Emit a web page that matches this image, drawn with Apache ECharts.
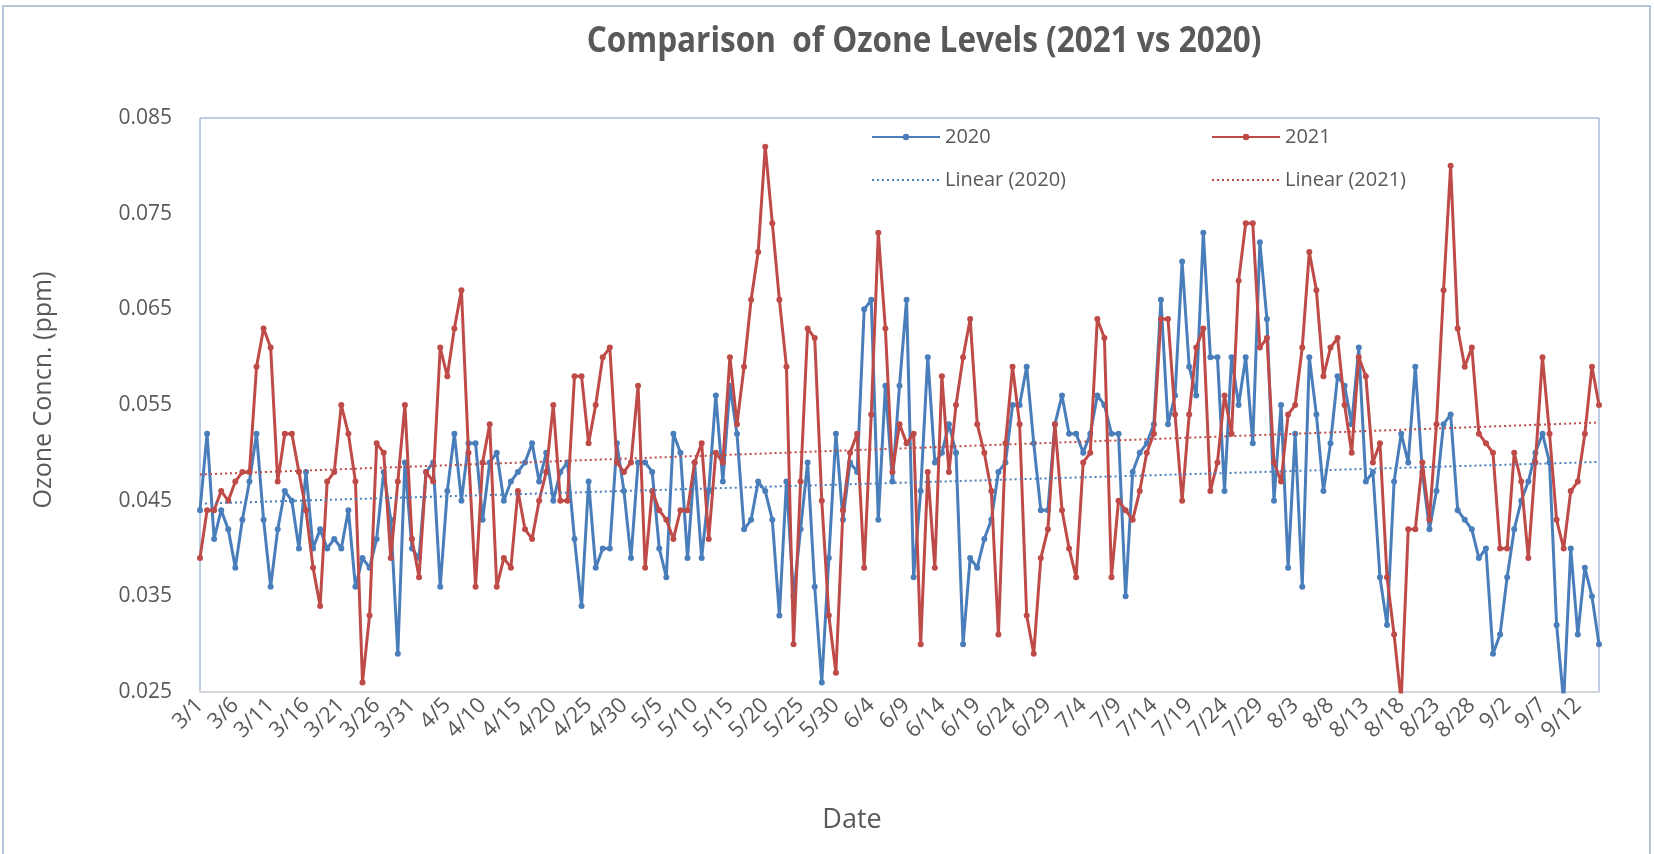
<!DOCTYPE html>
<html>
<head>
    <meta charset="utf-8"/>
    <title>Comparison of Ozone Levels</title>
    <script src="https://cdn.jsdelivr.net/npm/echarts@6/dist/echarts.min.js"></script>
    <style>
        html, body { margin: 0; padding: 0; background: #fff; }
        #chart1 { width: 1654px; height: 854px; }
    </style>
</head>
<body>
<div id="chart1"></div>
<script type="text/javascript">
    // daily dates 3/1 .. 9/15
    var months = [3, 4, 5, 6, 7, 8, 9];
    var monthDays = [31, 30, 31, 30, 31, 31, 15];
    var dates = [];
    months.forEach(function (m, i) {
        for (var d = 1; d <= monthDays[i]; d++) dates.push(m + '/' + d);
    });

    // ozone, ppm
    var ozone2020 = [
        0.044, 0.052, 0.041, 0.044, 0.042, 0.038, 0.043, 0.047, 0.052, 0.043, 0.036, 0.042, 0.046, 0.045, 0.040, 0.048, 0.040, 0.042, 0.040, 0.041, 0.040, 0.044, 0.036, 0.039, 0.038,
        0.041, 0.048, 0.043, 0.029, 0.049, 0.040, 0.039, 0.048, 0.049, 0.036, 0.046, 0.052, 0.045, 0.051, 0.051, 0.043, 0.049, 0.050, 0.045, 0.047, 0.048, 0.049, 0.051, 0.047, 0.050,
        0.045, 0.048, 0.049, 0.041, 0.034, 0.047, 0.038, 0.040, 0.040, 0.051, 0.046, 0.039, 0.049, 0.049, 0.048, 0.040, 0.037, 0.052, 0.050, 0.039, 0.049, 0.039, 0.046,
        0.056, 0.047, 0.057, 0.052, 0.042, 0.043, 0.047, 0.046, 0.043, 0.033, 0.047, 0.035, 0.042, 0.049, 0.036, 0.026, 0.039, 0.052, 0.043, 0.049, 0.048, 0.065, 0.066, 0.043, 0.057, 0.047, 0.057,
        0.066, 0.037, 0.046, 0.060, 0.049, 0.050, 0.053, 0.050, 0.030, 0.039, 0.038, 0.041, 0.043, 0.048, 0.049, 0.055, 0.055, 0.059, 0.051, 0.044, 0.044, 0.053, 0.056, 0.052, 0.052,
        0.050, 0.052, 0.056, 0.055, 0.052, 0.052, 0.035, 0.048, 0.050, 0.051, 0.053, 0.066, 0.053, 0.056, 0.070, 0.059, 0.056, 0.073, 0.060, 0.060, 0.046, 0.060, 0.055, 0.060, 0.051,
        0.072, 0.064, 0.045, 0.055, 0.038, 0.052, 0.036, 0.060, 0.054, 0.046, 0.051, 0.058, 0.057, 0.053, 0.061, 0.047, 0.048, 0.037, 0.032, 0.047, 0.052, 0.049,
        0.059, 0.048, 0.042, 0.046, 0.053, 0.054, 0.044, 0.043, 0.042, 0.039, 0.040, 0.029, 0.031, 0.037, 0.042, 0.045, 0.047, 0.050, 0.052, 0.049, 0.032, 0.024, 0.040, 0.031, 0.038, 0.035, 0.030
    ];
    var ozone2021 = [
        0.039, 0.044, 0.044, 0.046, 0.045, 0.047, 0.048, 0.048, 0.059, 0.063, 0.061, 0.047, 0.052, 0.052, 0.048, 0.044, 0.038, 0.034, 0.047, 0.048, 0.055, 0.052, 0.047, 0.026, 0.033,
        0.051, 0.050, 0.039, 0.047, 0.055, 0.041, 0.037, 0.048, 0.047, 0.061, 0.058, 0.063, 0.067, 0.050, 0.036, 0.049, 0.053, 0.036, 0.039, 0.038, 0.046, 0.042, 0.041, 0.045, 0.048,
        0.055, 0.045, 0.045, 0.058, 0.058, 0.051, 0.055, 0.060, 0.061, 0.049, 0.048, 0.049, 0.057, 0.038, 0.046, 0.044, 0.043, 0.041, 0.044, 0.044, 0.049, 0.051, 0.041,
        0.050, 0.049, 0.060, 0.053, 0.059, 0.066, 0.071, 0.082, 0.074, 0.066, 0.059, 0.030, 0.047, 0.063, 0.062, 0.045, 0.033, 0.027, 0.044, 0.050, 0.052, 0.038, 0.054, 0.073, 0.063, 0.048, 0.053,
        0.051, 0.052, 0.030, 0.048, 0.038, 0.058, 0.048, 0.055, 0.060, 0.064, 0.053, 0.050, 0.046, 0.031, 0.051, 0.059, 0.053, 0.033, 0.029, 0.039, 0.042, 0.053, 0.044, 0.040, 0.037,
        0.049, 0.050, 0.064, 0.062, 0.037, 0.045, 0.044, 0.043, 0.046, 0.050, 0.052, 0.064, 0.064, 0.054, 0.045, 0.054, 0.061, 0.063, 0.046, 0.049, 0.056, 0.052, 0.068, 0.074, 0.074,
        0.061, 0.062, 0.049, 0.047, 0.054, 0.055, 0.061, 0.071, 0.067, 0.058, 0.061, 0.062, 0.055, 0.050, 0.060, 0.058, 0.049, 0.051, 0.037, 0.031, 0.024, 0.042,
        0.042, 0.049, 0.043, 0.053, 0.067, 0.080, 0.063, 0.059, 0.061, 0.052, 0.051, 0.050, 0.040, 0.040, 0.050, 0.047, 0.039, 0.049, 0.060, 0.052, 0.043, 0.040, 0.046, 0.047, 0.052, 0.059, 0.055
    ];
    var yTicks = [0.025, 0.035, 0.045, 0.055, 0.065, 0.075, 0.085];

    // least squares trend, like Excel's "Linear" trendline
    function linearTrend(arr) {
        var n = arr.length, sx = 0, sy = 0, sxx = 0, sxy = 0;
        arr.forEach(function (v, i) { sx += i; sy += v; sxx += i * i; sxy += i * v; });
        var k = (n * sxy - sx * sy) / (n * sxx - sx * sx);
        var b = (sy - k * sx) / n;
        return arr.map(function (v, i) { return b + k * i; });
    }

    var blue = '#4A7EBB', red = '#BE4B48', grey = '#595959';
    var font = '"Open Sans", "Noto Sans", sans-serif';

    var myChart1 = echarts.init(document.getElementById('chart1'));

    function legendAt(name, left, top, isTrend) {
        var lg = {
            data: [name], left: left, top: top,
            itemWidth: 68, itemHeight: 8,
            textStyle: { color: grey, fontSize: 20, fontFamily: font }
        };
        if (isTrend) lg.itemStyle = { opacity: 0 };
        return lg;
    }

    function lineSeries(name, data, color, z) {
        return {
            name: name, type: 'line', data: data,
            symbol: 'circle', symbolSize: 6, showAllSymbol: true,
            itemStyle: { color: color },
            lineStyle: { color: color, width: 3 },
            z: z
        };
    }

    function trendSeries(name, data, color) {
        return {
            name: name, type: 'line', data: linearTrend(data),
            symbol: 'none', itemStyle: { color: color },
            lineStyle: { color: color, width: 2, type: [2, 3] },
            z: 5
        };
    }

    myChart1.setOption({
        backgroundColor: '#fff',
        animation: false,
        legend: [
            legendAt('2020', 866, 122),
            legendAt('2021', 1206, 122),
            legendAt('Linear (2020)', 866, 165, true),
            legendAt('Linear (2021)', 1206, 165, true)
        ],
        grid: {
            left: 200, right: 55, top: 118, bottom: 162,
            show: true, borderColor: '#7E9CC9', borderWidth: 1
        },
        xAxis: {
            type: 'category',
            data: dates,
            boundaryGap: false,
            axisLine: { lineStyle: { color: '#D9D9D9', width: 1.5 } },
            axisTick: { show: false },
            axisLabel: {
                interval: 4, rotate: 45, margin: 10,
                color: grey, fontSize: 22, fontFamily: font
            },
            splitLine: { show: false }
        },
        yAxis: {
            type: 'value',
            min: yTicks[0], max: yTicks[yTicks.length - 1], interval: 0.01,
            axisLine: { show: false },
            axisTick: { show: false },
            splitLine: { show: false },
            axisLabel: {
                margin: 28, color: grey, fontSize: 21, fontFamily: font,
                formatter: function (v) { return v.toFixed(3); }
            }
        },
        graphic: [
            {
                type: 'rect', silent: true,
                shape: { x: 3, y: 6, width: 1647, height: 900 },
                style: { fill: 'none', stroke: '#9FB4CC', lineWidth: 1.5 }
            },
            {
                type: 'text', x: 924, y: 42, scaleX: 0.875,
                style: {
                    text: 'Comparison  of Ozone Levels (2021 vs 2020)',
                    fill: grey, fontSize: 36, fontWeight: 'bold', fontFamily: font,
                    align: 'center', verticalAlign: 'middle'
                }
            },
            {
                type: 'text', x: 44, y: 390, rotation: Math.PI / 2,
                style: {
                    text: 'Ozone Concn. (ppm)', fill: grey, fontSize: 25, fontFamily: font,
                    align: 'center', verticalAlign: 'middle'
                }
            },
            {
                type: 'text', x: 852, y: 820,
                style: {
                    text: 'Date', fill: grey, fontSize: 27, fontFamily: font,
                    align: 'center', verticalAlign: 'middle'
                }
            }
        ],
        series: [
            lineSeries('2020', ozone2020, blue, 3),
            lineSeries('2021', ozone2021, red, 4),
            trendSeries('Linear (2020)', ozone2020, blue),
            trendSeries('Linear (2021)', ozone2021, red)
        ]
    });
</script>
</body>
</html>
